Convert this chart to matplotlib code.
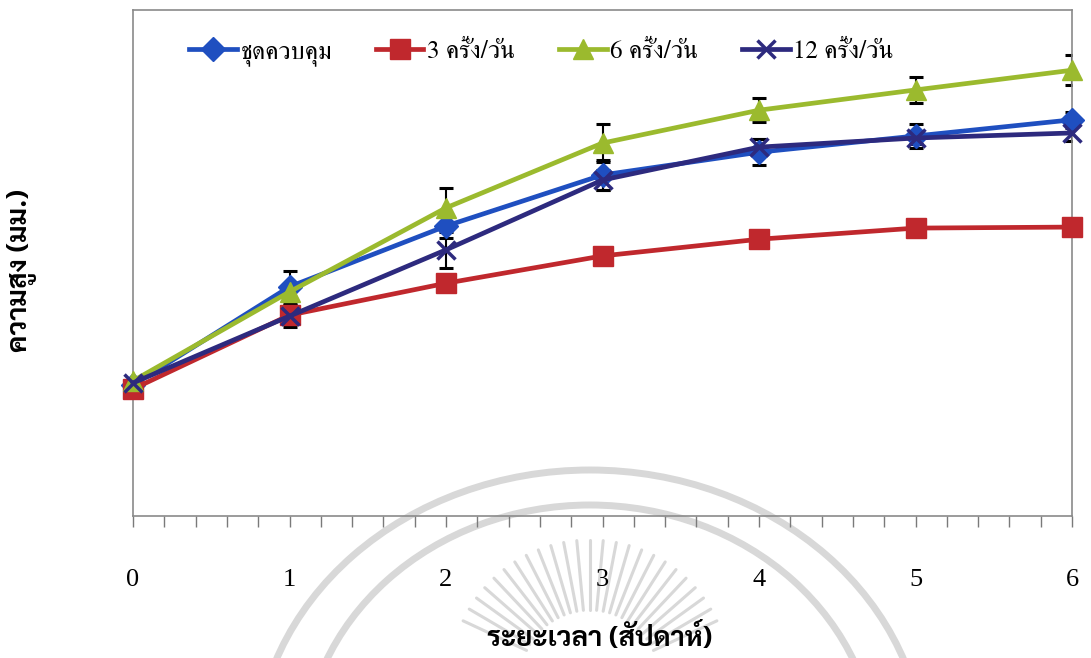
import numpy as np
import matplotlib
matplotlib.use("Agg")
import matplotlib.pyplot as plt
from matplotlib.patches import Ellipse
from matplotlib.lines import Line2D
from matplotlib.ticker import MultipleLocator

# สัปดาห์ที่วัด
weeks = [0, 1, 2, 3, 4, 5, 6]

# ความสูงเฉลี่ย (มม.) แต่ละชุดการทดลอง
control = [2.59, 4.53, 5.73, 6.74, 7.19, 7.51, 7.83]
three_per_day = [2.51, 3.97, 4.60, 5.14, 5.47, 5.69, 5.71]
six_per_day = [2.67, 4.43, 6.09, 7.37, 8.02, 8.42, 8.81]
twelve_per_day = [2.63, 3.95, 5.26, 6.64, 7.29, 7.47, 7.57]

# ค่าความคลาดเคลื่อน (SE)
control_err = [0.06, 0.32, 0.24, 0.30, 0.26, 0.24, 0.16]
three_err = [0.06, 0.06, 0.06, 0.06, 0.06, 0.06, 0.06]
six_err = [0.06, 0.16, 0.40, 0.38, 0.24, 0.26, 0.30]
twelve_err = [0.06, 0.22, 0.36, 0.20, 0.16, 0.12, 0.16]

labels = ["ชุดควบคุม", "3 ครั้ง/วัน", "6 ครั้ง/วัน", "12 ครั้ง/วัน"]
x_label = "ระยะเวลา (สัปดาห์)"
y_label = "ความสูง (มม.)"

thai_serif = ["FreeSerif", "DejaVu Serif"]
thai_bold = ["Sarabun", "DejaVu Sans"]

fig = plt.figure(figsize=(10.91, 6.58), dpi=100)

# ตราลายน้ำจาง ๆ ด้านล่าง (พิกัดพิกเซล)
W, H = 1091, 658
wm = "#d8d8d8"
for rx, ry in [(335, 292), (287, 257)]:
    e = Ellipse((590 / W, 1 - 762 / H), 2 * rx / W, 2 * ry / H,
                transform=fig.transFigure, fill=False, ec=wm, lw=5, zorder=-5)
    fig.add_artist(e)
cx, cy = 590, 680
for ang in np.linspace(25, 155, 25):
    a = np.deg2rad(ang)
    r0, r1 = 70, 140
    xs = [(cx + r0 * np.cos(a)) / W, (cx + r1 * np.cos(a)) / W]
    ys = [1 - (cy - r0 * np.sin(a)) / H, 1 - (cy - r1 * np.sin(a)) / H]
    fig.add_artist(Line2D(xs, ys, transform=fig.transFigure, color=wm,
                          lw=2.2, solid_capstyle="round", zorder=-5))

ax = fig.add_axes([133 / W, 1 - 516 / H, (1072 - 133) / W, (516 - 10) / H])
ax.set_facecolor("none")

series = [
    (control, control_err, "#1F4FC0", "D", 12),
    (three_per_day, three_err, "#C0282D", "s", 14),
    (six_per_day, six_err, "#9BBA2E", "^", 14),
    (twelve_per_day, twelve_err, "#2D2A7E", "x", 13),
]

handles = []
for (vals, err, col, mk, ms), lab in zip(series, labels):
    ax.errorbar(weeks, vals, yerr=err, fmt="none", ecolor="black",
                elinewidth=1.5, capsize=5, capthick=2.2, zorder=2)
    line, = ax.plot(weeks, vals, color=col, lw=3.4, marker=mk, ms=ms,
                    mew=2.5 if mk == "x" else 1, mec=col, mfc=col,
                    label=lab, zorder=3, clip_on=False)
    handles.append(line)

ax.set_xlim(0, 6)
ax.set_ylim(0, 10)
ax.set_yticks([])
ax.xaxis.set_major_locator(MultipleLocator(1))
ax.xaxis.set_minor_locator(MultipleLocator(0.2))
ax.tick_params(axis="x", which="both", direction="out", length=8,
               width=1, color="#7a7a7a")
ax.tick_params(axis="x", which="major", pad=30)
for t in ax.get_xticklabels():
    t.set_family(["Liberation Serif"])
    t.set_fontsize(19)
for s in ax.spines.values():
    s.set_color("#8a8a8a")
    s.set_linewidth(1.2)

ax.legend(handles=handles, loc="upper left", bbox_to_anchor=(0.036, 0.985),
          ncol=4, frameon=False, handlelength=1.9, handletextpad=0.15,
          columnspacing=1.75, prop={"family": thai_serif, "size": 18})

fig.text(600 / W, 1 - 637 / H, x_label, ha="center", va="center",
         family=thai_bold, fontweight="bold", fontsize=20)
fig.text(22 / W, 1 - 270 / H, y_label, ha="center", va="center",
         rotation=90, family=thai_bold, fontweight="bold", fontsize=20)

fig.savefig("out.png", dpi=100)
